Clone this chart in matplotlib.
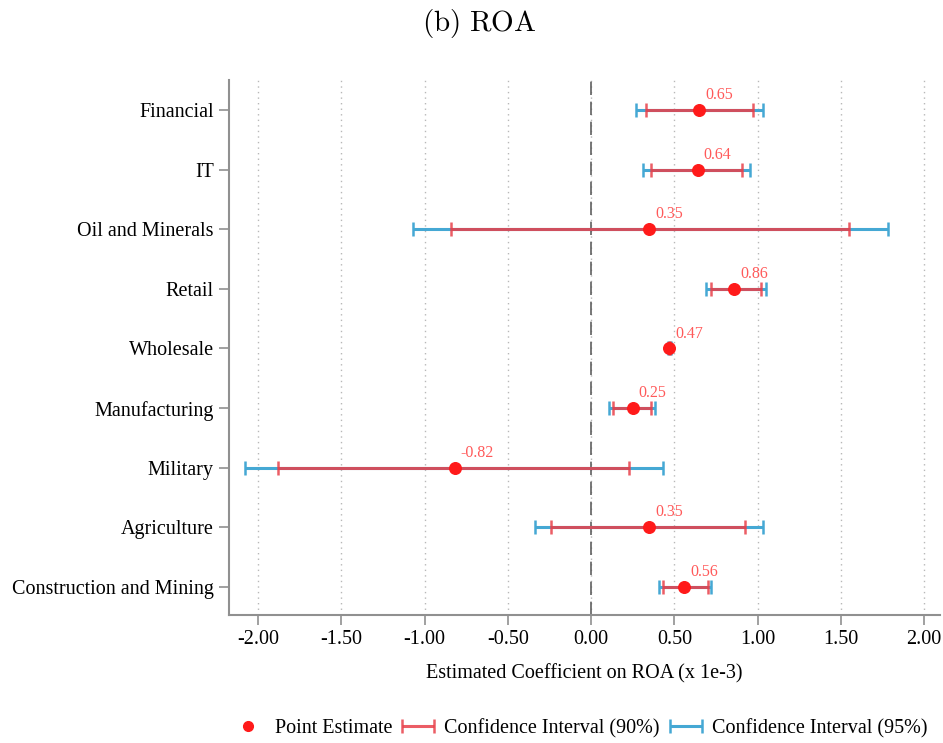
import matplotlib
matplotlib.use("Agg")
import matplotlib.pyplot as plt
from matplotlib.lines import Line2D
from matplotlib.legend_handler import HandlerErrorbar
from matplotlib.container import ErrorbarContainer
import numpy as np

categories = ["Financial", "IT", "Oil and Minerals", "Retail", "Wholesale",
              "Manufacturing", "Military", "Agriculture", "Construction and Mining"]
estimates = [0.65, 0.64, 0.35, 0.86, 0.47, 0.25, -0.82, 0.35, 0.56]
ci90_low = [0.33, 0.36, -0.84, 0.72, 0.465, 0.13, -1.88, -0.24, 0.43]
ci90_high = [0.97, 0.905, 1.55, 1.02, 0.475, 0.36, 0.23, 0.925, 0.70]
ci95_low = [0.27, 0.31, -1.07, 0.69, 0.46, 0.11, -2.08, -0.34, 0.405]
ci95_high = [1.03, 0.955, 1.78, 1.05, 0.48, 0.385, 0.43, 1.035, 0.72]
xticks = [-2.0, -1.5, -1.0, -0.5, 0.0, 0.5, 1.0, 1.5, 2.0]

plt.rcParams['font.family'] = ['Liberation Serif', 'DejaVu Serif']
plt.rcParams['mathtext.fontset'] = 'cm'

fig = plt.figure(figsize=(9.43, 7.43), dpi=100)
ax = fig.add_axes([0.243, 0.1723, 0.754, 0.7198])

y = np.arange(len(categories))
est = np.array(estimates)
blue = '#45a8d4'
red = '#e8404a'

ax.grid(axis='x', color='#b8b8b8', linestyle=(0, (1, 3)), linewidth=1.0)
ax.set_axisbelow(True)
ax.axvline(0, color='#606060', linestyle=(0, (8, 4)), linewidth=1.2, zorder=1)

e95 = ax.errorbar(est, y, xerr=[est - np.array(ci95_low), np.array(ci95_high) - est],
                  fmt='none', ecolor=blue, elinewidth=2.2, capsize=5, capthick=1.8, zorder=2,
                  label='Confidence Interval (95%)')
e90 = ax.errorbar(est, y, xerr=[est - np.array(ci90_low), np.array(ci90_high) - est],
                  fmt='none', ecolor=red, elinewidth=2.2, capsize=5, capthick=1.8, zorder=3,
                  alpha=0.85, label='Confidence Interval (90%)')
pts = ax.scatter(est, y, s=70, color='#ff1a1a', zorder=4, label='Point Estimate')

for xi, yi in zip(est, y):
    ax.annotate(f"{xi:.2f}", (xi, yi), xytext=(4, 5), textcoords='offset points',
                ha='left', va='bottom', color='#ff5a5a', fontsize=11.5)

ax.set_yticks(y)
ax.set_yticklabels(categories, fontsize=14.5)
ax.set_ylim(len(categories) - 1 + 0.47, -0.5)
ax.set_xlim(-2.174, 2.096)
ax.set_xticks(xticks)
ax.set_xticklabels([f"{t:.2f}" for t in xticks], fontsize=14.5)
ax.set_xlabel("Estimated Coefficient on ROA (x 1e-3)", fontsize=14.5, labelpad=11)

for s in ['top', 'right']:
    ax.spines[s].set_visible(False)
for s in ['left', 'bottom']:
    ax.spines[s].set_color('#909090')
    ax.spines[s].set_linewidth(1.5)
ax.tick_params(axis='both', color='#909090', length=7, width=1.2, pad=4)

fig.suptitle(r"$\mathrm{(b)\ ROA}$", fontsize=21, x=0.508, y=0.99)

pt_handle = Line2D([], [], marker='o', linestyle='none', color='#ff1a1a', markersize=7)
fig.legend(handles=[pt_handle, e90, e95],
           labels=['Point Estimate', 'Confidence Interval (90%)', 'Confidence Interval (95%)'],
           loc='lower center', bbox_to_anchor=(0.613, -0.018), ncol=3, frameon=False,
           fontsize=14.5, handlelength=2.0, columnspacing=0.3, handletextpad=0.3,
           handler_map={ErrorbarContainer: HandlerErrorbar(xerr_size=0.8)})

fig.savefig("out.png", dpi=100)
